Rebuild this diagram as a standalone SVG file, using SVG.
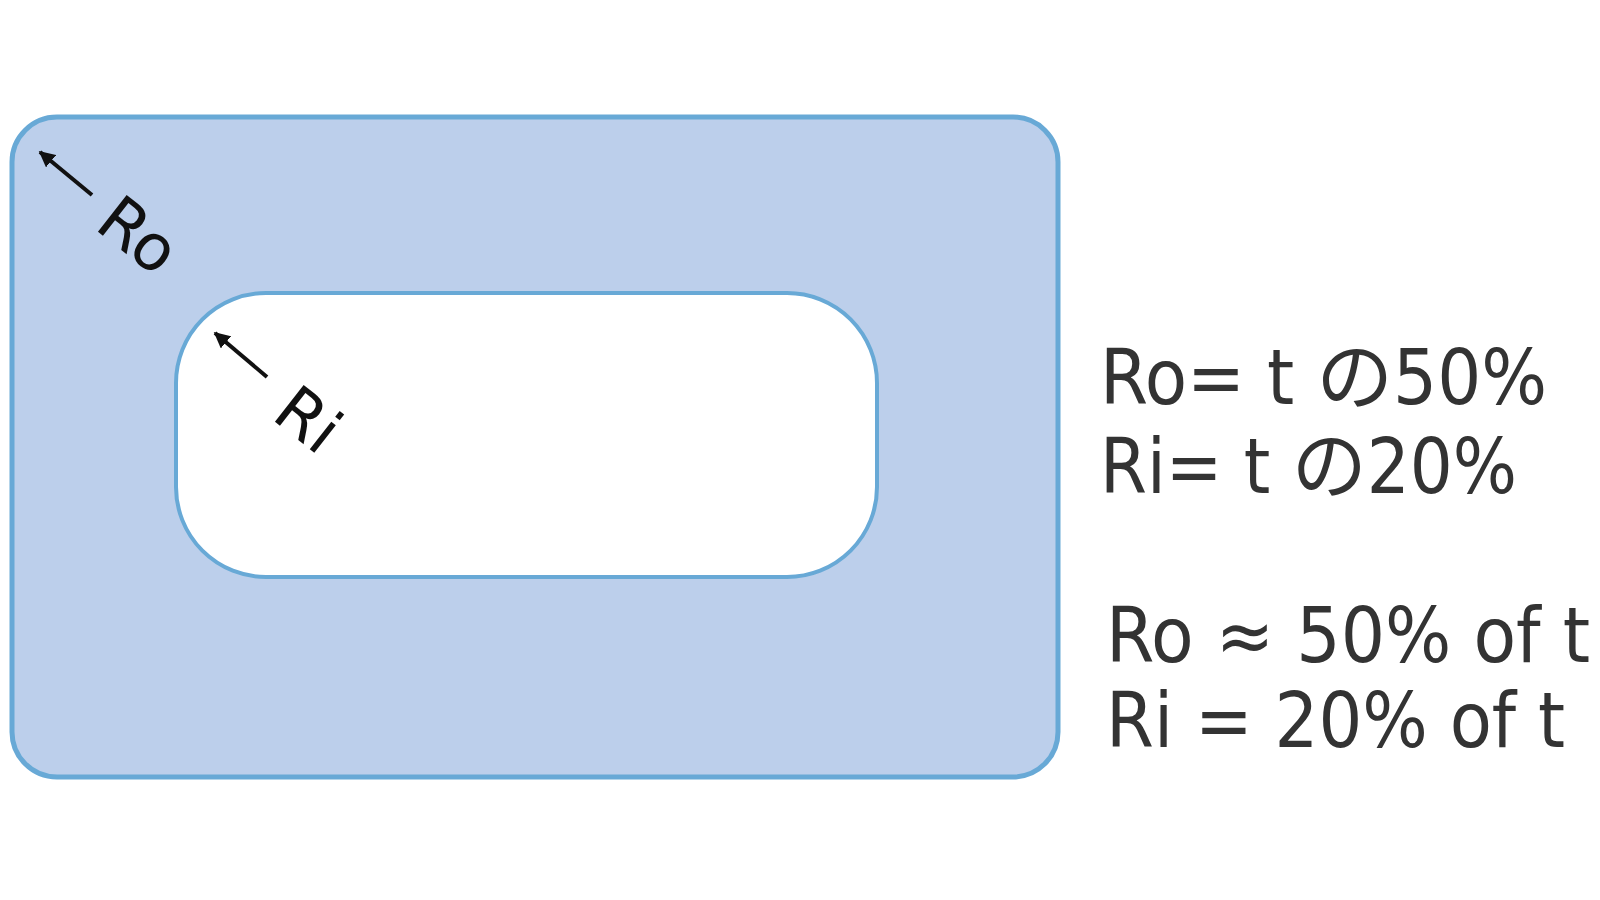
<svg xmlns="http://www.w3.org/2000/svg" width="1600" height="900" viewBox="0 0 1600 900">
<defs>
<style>
.frame{fill:#bccfeb;stroke:#68a9d6;stroke-width:5}
.hole{fill:#ffffff;stroke:#68a9d6;stroke-width:4}
.lbl{font-family:"DejaVu Sans","Noto Sans",sans-serif;font-size:64px;fill:#111}
.note{font-family:"DejaVu Sans Condensed","DejaVu Sans","Noto Sans CJK JP",sans-serif;font-size:76px;fill:#333}
.arr{stroke:#111;stroke-width:4;fill:none;marker-end:url(#ah)}
</style>
<marker id="ah" viewBox="0 0 10 10" refX="9" refY="5" markerWidth="4" markerHeight="4" orient="auto">
<path d="M0,0 L10,5 L0,10 Z" fill="#111"/>
</marker>
</defs>
<g id="outer"><rect class="frame" x="12" y="117" width="1046" height="660" rx="45" ry="45"/></g>
<g id="inner"><rect class="hole" x="176" y="293" width="701" height="284" rx="90" ry="90"/></g>
<g id="connectors">
<line class="arr" x1="92" y1="195" x2="40" y2="152"/>
<line class="arr" x1="267" y1="377" x2="215" y2="333"/>
</g>
<g id="label-ro"><text class="lbl" transform="translate(93,228) rotate(38)">Ro</text></g>
<g id="label-ri"><text class="lbl" transform="translate(270,418) rotate(38)">Ri</text></g>
<g id="notes">
<text class="note" x="1100" y="404" textLength="447" lengthAdjust="spacingAndGlyphs">Ro= t の50%</text>
<text class="note" x="1100" y="493" textLength="417" lengthAdjust="spacingAndGlyphs">Ri= t の20%</text>
<text class="note" x="1106" y="662" textLength="484" lengthAdjust="spacingAndGlyphs">Ro ≈ 50% of t</text>
<text class="note" x="1106" y="747" textLength="459" lengthAdjust="spacingAndGlyphs">Ri = 20% of t</text>
</g>
</svg>
